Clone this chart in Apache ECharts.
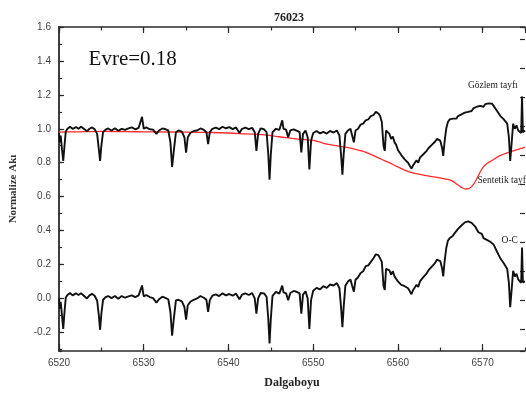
<!DOCTYPE html>
<html><head><meta charset="utf-8">
<script src="https://cdn.jsdelivr.net/npm/echarts@6/dist/echarts.min.js"></script>
<style>html,body{margin:0;padding:0;background:#fff}#c{width:526px;height:396px}</style>
</head><body><div id="c"></div>
<script>
// ---- data ----
const chartTitle = '76023';
const phaseText = 'Evre=0.18';
const labelObserved = 'Gözlem tayfı';
const labelSynthetic = 'Sentetik tayfı';
const labelOC = 'O-C';

const wavelength = [
  6520.0, 6520.1, 6520.2, 6520.35, 6520.5, 6520.65, 6520.8, 6521.0, 6521.3, 6521.6,
  6522.0, 6522.3, 6522.6, 6523.0, 6523.3, 6523.6, 6523.9, 6524.2, 6524.5, 6524.7,
  6524.85, 6525.0, 6525.2, 6525.5, 6525.8, 6526.2, 6526.6, 6527.0, 6527.4, 6527.8,
  6528.2, 6528.6, 6529.0, 6529.4, 6529.6, 6529.8, 6530.0, 6530.3, 6530.7, 6531.1,
  6531.5, 6531.8, 6532.2, 6532.6, 6532.9, 6533.15, 6533.35, 6533.55, 6533.8, 6534.1,
  6534.5, 6534.8, 6535.0, 6535.2, 6535.5, 6535.9, 6536.3, 6536.7, 6537.1, 6537.4,
  6537.6, 6537.8, 6538.1, 6538.5, 6538.9, 6539.3, 6539.7, 6540.1, 6540.5, 6540.9,
  6541.3, 6541.6, 6542.0, 6542.4, 6542.8, 6543.1, 6543.3, 6543.5, 6543.8, 6544.2,
  6544.5, 6544.7, 6544.85, 6545.0, 6545.2, 6545.6, 6546.0, 6546.2, 6546.35, 6546.5,
  6546.8, 6547.05, 6547.3, 6547.7, 6548.1, 6548.4, 6548.6, 6548.8, 6549.1, 6549.35,
  6549.55, 6549.75, 6550.0, 6550.4, 6550.8, 6551.2, 6551.6, 6552.0, 6552.4, 6552.8,
  6553.1, 6553.3, 6553.45, 6553.6, 6553.8, 6554.1, 6554.4, 6554.6, 6554.8, 6555.0,
  6555.3, 6555.6, 6555.9, 6556.2, 6556.5, 6556.8, 6557.1, 6557.4, 6557.7, 6557.9,
  6558.1, 6558.3, 6558.45, 6558.6, 6558.8, 6559.0, 6559.2, 6559.4, 6559.6, 6559.8,
  6560.0, 6560.2, 6560.4, 6560.6, 6560.8, 6561.0, 6561.2, 6561.4, 6561.6, 6561.8,
  6562.0, 6562.2, 6562.4, 6562.6, 6562.8, 6563.0, 6563.2, 6563.4, 6563.6, 6563.8,
  6564.0, 6564.2, 6564.4, 6564.6, 6564.8, 6565.0, 6565.2, 6565.35, 6565.5, 6565.7,
  6565.9, 6566.1, 6566.3, 6566.5, 6566.7, 6566.9, 6567.1, 6567.3, 6567.5, 6567.7,
  6567.9, 6568.1, 6568.3, 6568.5, 6568.7, 6568.9, 6569.1, 6569.3, 6569.5, 6569.7,
  6569.9, 6570.1, 6570.3, 6570.5, 6570.7, 6570.9, 6571.1, 6571.3, 6571.5, 6571.7,
  6571.9, 6572.1, 6572.3, 6572.5, 6572.7, 6572.9, 6573.1, 6573.25, 6573.4, 6573.6,
  6573.8, 6574.0, 6574.2, 6574.4, 6574.55, 6574.65, 6574.75, 6575.0
];

const observed = [
  0.975, 0.92, 0.96, 0.88, 0.81, 0.90, 0.985, 1.0, 1.012, 1.0,
  1.01, 1.0, 1.012, 0.998, 0.985, 1.0, 1.008, 0.998, 0.97, 0.88,
  0.81, 0.90, 0.98, 0.995, 1.002, 0.99, 1.003, 0.988, 1.0, 0.993,
  1.002, 1.008, 0.997, 1.006, 0.998, 1.07, 1.0, 1.008, 0.997, 0.995,
  0.97, 0.99, 1.002, 0.997, 0.99, 0.92, 0.775, 0.87, 0.98, 0.99,
  0.983, 0.95, 0.86, 0.95, 0.975, 0.987, 0.99, 1.002, 0.993, 0.98,
  0.91, 0.98, 1.0, 1.007, 0.998, 1.012, 1.003, 1.01, 0.998, 1.008,
  0.975, 1.0, 1.007, 0.998, 1.006, 0.98, 0.87, 0.97, 1.002, 0.997,
  0.98, 0.85, 0.70, 0.85, 0.98, 1.0, 0.993, 1.0, 1.05, 1.0,
  0.995, 0.95, 0.99, 0.997, 0.988, 0.98, 0.86, 0.97, 0.99, 0.95,
  0.76, 0.93, 0.975, 0.987, 0.973, 0.982, 0.972, 0.987, 0.978, 0.99,
  0.96, 0.84, 0.73, 0.85, 0.97, 0.99, 1.0, 0.96, 0.92, 0.99,
  1.0, 1.025, 1.03, 1.05, 1.055, 1.075, 1.08, 1.1, 1.09, 1.075,
  1.04, 0.90, 0.87, 0.99, 0.985, 0.97, 0.94, 0.955, 0.92, 0.905,
  0.875, 0.865, 0.845, 0.84, 0.82, 0.815, 0.80, 0.795, 0.765, 0.785,
  0.79, 0.815, 0.80, 0.83, 0.835, 0.85, 0.86, 0.87, 0.885, 0.89,
  0.905, 0.915, 0.925, 0.94, 0.945, 0.93, 0.89, 0.84, 0.92, 1.0,
  1.04, 1.055, 1.045, 1.06, 1.065, 1.06, 1.075, 1.07, 1.085, 1.08,
  1.095, 1.09, 1.1, 1.11, 1.105, 1.12, 1.115, 1.13, 1.12, 1.135,
  1.14, 1.13, 1.145, 1.14, 1.15, 1.14, 1.148, 1.135, 1.12, 1.105,
  1.09, 1.075, 1.07, 1.055, 1.05, 1.03, 0.95, 0.81, 0.90, 1.03,
  1.0, 1.02, 0.99, 1.0, 0.975, 1.19, 0.98, 0.99
];

const oMinusC = [
  0.0, -0.06, -0.02, -0.10, -0.18, -0.08, 0.005, 0.02, 0.032, 0.018,
  0.03, 0.02, 0.03, 0.013, 0.0, 0.018, 0.027, 0.016, -0.012, -0.10,
  -0.185, -0.09, -0.008, 0.008, 0.014, 0.002, 0.014, -0.002, 0.014, 0.004,
  0.012, 0.018, 0.008, 0.018, 0.008, 0.076, 0.012, 0.02, 0.008, 0.002,
  -0.025, -0.005, 0.01, 0.002, -0.005, -0.08, -0.22, -0.12, -0.012, -0.008,
  -0.017, -0.05, -0.125, -0.04, -0.02, -0.008, 0.0, 0.014, 0.004, -0.008,
  -0.08, -0.01, 0.016, 0.024, 0.014, 0.03, 0.018, 0.026, 0.016, 0.028,
  -0.005, 0.022, 0.03, 0.02, 0.031, 0.0, -0.09, 0.0, 0.032, 0.03,
  0.01, -0.12, -0.265, -0.12, 0.015, 0.038, 0.028, 0.036, 0.075, 0.036,
  0.03, -0.01, 0.032, 0.044, 0.038, 0.03, -0.09, 0.022, 0.042, 0.0,
  -0.18, -0.01, 0.045, 0.062, 0.053, 0.072, 0.062, 0.082, 0.076, 0.09,
  0.06, -0.06, -0.17, -0.05, 0.075, 0.10, 0.112, 0.075, 0.04, 0.11,
  0.125, 0.15, 0.16, 0.19, 0.195, 0.215, 0.235, 0.26, 0.255, 0.245,
  0.215, 0.075, 0.05, 0.175, 0.175, 0.165, 0.14, 0.16, 0.13, 0.12,
  0.10, 0.095, 0.08, 0.083, 0.072, 0.07, 0.06, 0.058, 0.025, 0.05,
  0.055, 0.08, 0.068, 0.10, 0.108, 0.125, 0.135, 0.148, 0.165, 0.172,
  0.188, 0.198, 0.21, 0.228, 0.235, 0.22, 0.18, 0.13, 0.212, 0.295,
  0.34, 0.355, 0.352, 0.37, 0.385, 0.39, 0.41, 0.412, 0.43, 0.428,
  0.448, 0.445, 0.454, 0.458, 0.445, 0.448, 0.425, 0.42, 0.39, 0.39,
  0.38, 0.355, 0.36, 0.345, 0.35, 0.334, 0.336, 0.317, 0.296, 0.275,
  0.255, 0.235, 0.226, 0.207, 0.198, 0.174, 0.09, -0.052, 0.036, 0.163,
  0.13, 0.145, 0.112, 0.12, 0.092, 0.30, 0.095, 0.10
];

const synWavelength = [
  6520, 6522, 6525, 6528, 6530, 6533, 6535, 6538, 6540, 6542,
  6544, 6546, 6548, 6549, 6550, 6551, 6552, 6553, 6554, 6555,
  6556, 6557, 6558, 6559, 6560, 6561, 6562, 6563, 6564, 6565,
  6566, 6566.5, 6567, 6567.5, 6568, 6568.4, 6568.8, 6569.2, 6569.6, 6570,
  6570.5, 6571, 6572, 6573, 6574, 6575
];
const synthetic = [
  0.98, 0.982, 0.985, 0.983, 0.982, 0.981, 0.98, 0.978, 0.975, 0.97,
  0.965, 0.953, 0.94, 0.936, 0.932, 0.918, 0.906, 0.898, 0.89, 0.878,
  0.865, 0.845, 0.822, 0.80, 0.775, 0.752, 0.737, 0.727, 0.718, 0.71,
  0.70, 0.69, 0.672, 0.655, 0.645, 0.648, 0.665, 0.695, 0.735, 0.77,
  0.795, 0.81, 0.84, 0.86, 0.876, 0.89
];

const xMin = 6520, xMax = 6575, xMajor = 10, xMinor = 5;
const yMin = -0.31, yMax = 1.6, yMajor = 0.2, yMinor = 0.1;

// ---- chart ----
const zip = (xs, ys) => xs.map((x, i) => [x, ys[i]]);
const SERIF = "'Liberation Serif', 'Times New Roman', serif";
const SANS = "'Liberation Sans', Arial, sans-serif";
const AX = '#2a2a2a';

const baseX = (extra) => Object.assign({
  type: 'value', min: xMin, max: xMax, gridIndex: 0,
  splitLine: { show: false },
  axisLine: { onZero: false, show: false, lineStyle: { color: AX, width: 1.5 } },
  axisTick: { inside: true, length: 6, lineStyle: { color: AX, width: 1.2 } },
  axisLabel: { show: false }
}, extra);

const baseY = (extra) => Object.assign({
  type: 'value', min: yMin, max: yMax, gridIndex: 0,
  splitLine: { show: false },
  axisLine: { onZero: false, show: false, lineStyle: { color: AX, width: 1.5 } },
  axisTick: { inside: true, length: 5, lineStyle: { color: AX, width: 1.2 } },
  axisLabel: { show: false }
}, extra);

const chart = echarts.init(document.getElementById('c'), null, { renderer: 'canvas' });
chart.setOption({
  animation: false,
  backgroundColor: '#fff',
  title: {
    text: chartTitle, left: 284, top: 7, textAlign: 'center',
    textStyle: { fontFamily: SERIF, fontWeight: 'bold', fontSize: 12, color: '#222' }
  },
  grid: { left: 55, right: 1, top: 27, bottom: 45 },
  xAxis: [
    baseX({
      position: 'bottom', interval: xMajor,
      axisLine: { onZero: false, show: true, lineStyle: { color: AX, width: 1.6 } },
      axisTick: { inside: true, length: 7, lineStyle: { color: AX, width: 1.2 } },
      axisLabel: { show: true, showMaxLabel: false, color: '#444', fontSize: 10, fontFamily: SANS, margin: 7,
        formatter: v => String(v) },
      name: 'Dalgaboyu', nameLocation: 'middle', nameGap: 26,
      nameTextStyle: { fontFamily: SERIF, fontWeight: 'bold', fontSize: 12, color: '#222' }
    }),
    baseX({ position: 'bottom', interval: xMinor, axisTick: { inside: true, length: 3.5, lineStyle: { color: AX, width: 1.2 } } }),
    baseX({
      position: 'top', interval: xMajor,
      axisLine: { onZero: false, show: true, lineStyle: { color: AX, width: 1.6 } }
    }),
    baseX({ position: 'top', interval: xMinor, axisTick: { inside: true, length: 3.5, lineStyle: { color: AX, width: 1.2 } } })
  ],
  yAxis: [
    baseY({
      position: 'left', splitNumber: 10, minInterval: yMajor, maxInterval: yMajor,
      axisLine: { onZero: false, show: true, lineStyle: { color: AX, width: 1.8 } },
      axisLabel: { show: true, showMinLabel: false, color: '#444', fontSize: 10, fontFamily: SANS, margin: 8,
        formatter: v => v.toFixed(1) },
      name: 'Normalize Akı', nameLocation: 'middle', nameGap: 40, nameRotate: 90,
      nameTextStyle: { fontFamily: SERIF, fontWeight: 'bold', fontSize: 11, color: '#333' }
    }),
    baseY({ position: 'left', splitNumber: 20, minInterval: yMinor, maxInterval: yMinor,
      axisTick: { inside: true, length: 3, lineStyle: { color: AX, width: 1.2 } } }),
    baseY({ position: 'right', min: -0.75, max: 10.41, splitNumber: 11, minInterval: 1, maxInterval: 1 })
  ],
  series: [
    {
      name: labelSynthetic, type: 'line', xAxisIndex: 0, yAxisIndex: 0,
      data: zip(synWavelength, synthetic), showSymbol: false, symbol: 'none',
      smooth: 0.35, lineStyle: { color: '#ff2a2a', width: 1.3 },
      markPoint: {
        symbol: 'circle', symbolSize: 0, silent: true,
        label: { show: true, position: 'inside', fontFamily: SERIF, fontSize: 9.5, color: '#222' },
        data: [{ name: labelSynthetic, coord: [6572.4, 0.694], label: { formatter: labelSynthetic } }]
      }
    },
    {
      name: labelObserved, type: 'line', xAxisIndex: 0, yAxisIndex: 0,
      data: zip(wavelength, observed), showSymbol: false, symbol: 'none',
      lineStyle: { color: '#111', width: 1.9 },
      markPoint: {
        symbol: 'circle', symbolSize: 0, silent: true,
        label: { show: true, position: 'inside', fontFamily: SERIF, fontSize: 9.5, color: '#222' },
        data: [
          { name: labelObserved, coord: [6571.2, 1.253], label: { formatter: labelObserved } },
          { name: phaseText, coord: [6528.7, 1.41], label: { formatter: phaseText, fontSize: 21, color: '#111' } }
        ]
      }
    },
    {
      name: labelOC, type: 'line', xAxisIndex: 0, yAxisIndex: 0,
      data: zip(wavelength, oMinusC), showSymbol: false, symbol: 'none',
      lineStyle: { color: '#111', width: 1.9 },
      markPoint: {
        symbol: 'circle', symbolSize: 0, silent: true,
        label: { show: true, position: 'inside', fontFamily: SERIF, fontSize: 9.5, color: '#222' },
        data: [{ name: labelOC, coord: [6573.2, 0.341], label: { formatter: labelOC } }]
      }
    }
  ]
});
</script>
</body></html>
